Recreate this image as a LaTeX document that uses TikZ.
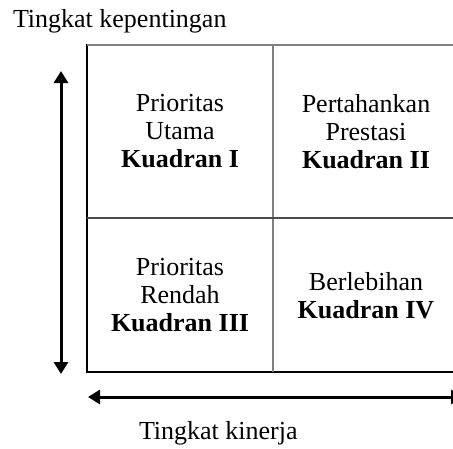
\documentclass[tikz,border=0pt]{standalone}
\usepackage{fontspec}
\setmainfont{Liberation Serif}
\usetikzlibrary{arrows.meta}
\begin{document}
\begin{tikzpicture}[x=1pt,y=-1pt,
  every node/.style={inner sep=0pt,outer sep=0pt},
  txt/.style={font=\fontsize{26}{28}\selectfont},
  quad/.style={txt,align=center},
  frame/.style={draw=black,line width=1.4pt},
  divider/.style={draw=black!50,line width=2pt},
  axis/.style={line width=3pt,{Triangle[length=12pt,width=14pt]}-{Triangle[length=12pt,width=14pt]}}]
\useasboundingbox (0,0) rectangle (453,448);
\clip (0,0) rectangle (453,448);
% frame
\coordinate (tl) at (87,45);
\coordinate (br) at (459,372);
\coordinate (mt) at (273,45);
\coordinate (mb) at (273,372);
\coordinate (ml) at (87,218);
\coordinate (mr) at (459,218);
\draw[frame] (tl) rectangle (br);
\draw[divider] (tl) -- (tl -| br);
\draw[divider] (mt) -- (mb);
\draw[divider,draw=black!70] (ml) -- (mr);
% quadrant texts
\node[quad] (q1) at (180,131.5) {Prioritas\\Utama\\\textbf{Kuadran I}};
\node[quad] (q2) at (366,131.5) {Pertahankan\\Prestasi\\\textbf{Kuadran II}};
\node[quad] (q3) at (180,295.5) {Prioritas\\Rendah\\\textbf{Kuadran III}};
\node[quad] (q4) at (366,295.5) {Berlebihan\\\textbf{Kuadran IV}};
% axes
\coordinate (vt) at (61,71);
\coordinate (vb) at (61,374);
\coordinate (hl) at (88,397);
\coordinate (hr) at (463,397);
\draw[axis] (vt) -- (vb);
\draw[axis] (hl) -- (hr);
% labels
\node[txt,anchor=base west] (ylab) at (13,27) {Tingkat kepentingan};
\node[txt,anchor=base west] (xlab) at (139,439) {Tingkat kinerja};
\end{tikzpicture}
\end{document}
